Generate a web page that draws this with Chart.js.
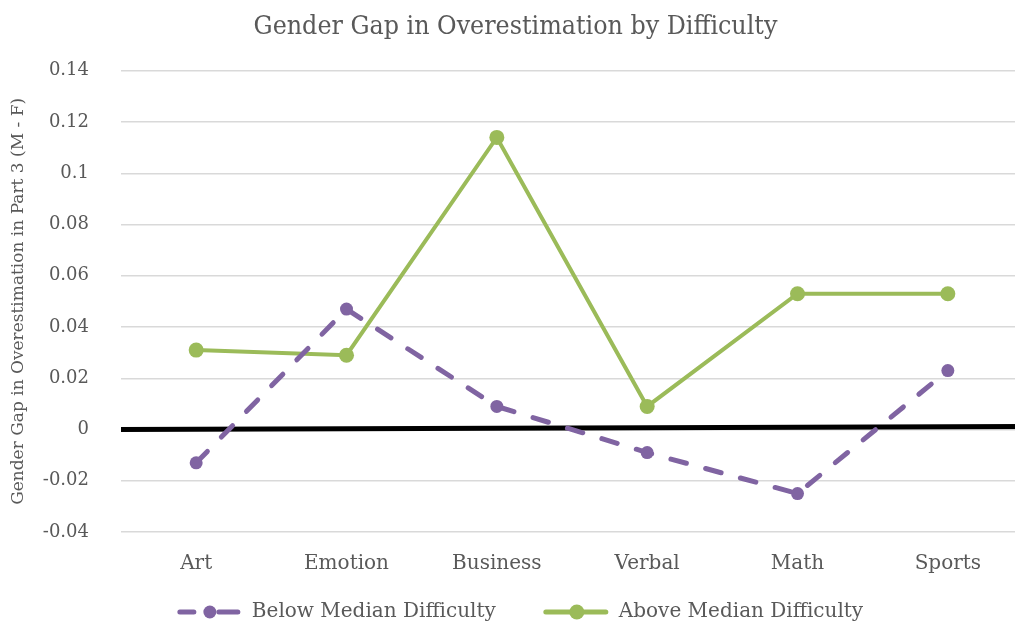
<!DOCTYPE html>
<html lang="en">
<head>
    <meta charset="UTF-8">
    <title>Gender Gap in Overestimation by Difficulty</title>
    <script src="https://cdn.jsdelivr.net/npm/chart.js"></script>
    <style>
        html, body { margin: 0; padding: 0; background: #fff; overflow: hidden; }
        #wrap { width: 1040px; height: 628px; position: relative; }
    </style>
</head>
<body>
    <div id="wrap">
        <canvas id="gapChart"></canvas>
    </div>

    <script>
        // Datos
        const categories = ['Art', 'Emotion', 'Business', 'Verbal', 'Math', 'Sports'];
        const belowMedian = [-0.013, 0.047, 0.009, -0.009, -0.025, 0.023];
        const aboveMedian = [0.031, 0.029, 0.114, 0.009, 0.053, 0.053];
        const seriesNames = ['Below Median Difficulty', 'Above Median Difficulty'];
        const yTicks = [-0.04, -0.02, 0, 0.02, 0.04, 0.06, 0.08, 0.1, 0.12, 0.14];
        // linea negra del cero (dibujada a mano en el original, algo inclinada)
        const zeroLine = [0, 0.0012];

        const PURPLE = '#8064a2';
        const GREEN = '#9bbb59';
        const GREY = '#595959';
        const SERIF = "'DejaVu Serif', 'Liberation Serif', serif";
        const LEGEND_SIZE = 20;

        const zeroLinePlugin = {
            id: 'zeroLine',
            beforeDatasetsDraw(chart) {
                const y = chart.scales.y;
                const area = chart.chartArea;
                const ctx = chart.ctx;
                ctx.save();
                ctx.strokeStyle = '#000';
                ctx.lineWidth = 5;
                ctx.beginPath();
                ctx.moveTo(area.left, y.getPixelForValue(zeroLine[0]));
                ctx.lineTo(area.right, y.getPixelForValue(zeroLine[1]));
                ctx.stroke();
                ctx.restore();
            }
        };

        // Leyenda propia: linea + marcador como en Excel
        const bottomLegend = {
            id: 'bottomLegend',
            afterDraw(chart) {
                const ctx = chart.ctx;
                const symW = 64, gapText = 11, gapItems = 48;
                const cy = 612;
                ctx.save();
                ctx.font = LEGEND_SIZE + 'px ' + SERIF;
                const widths = chart.data.datasets.map(ds => ctx.measureText(ds.label).width);
                const total = symW * 2 + gapText * 2 + widths[0] + widths[1] + gapItems;
                let x = chart.width / 2 - total / 2;
                chart.data.datasets.forEach((ds, i) => {
                    ctx.strokeStyle = ds.borderColor;
                    ctx.fillStyle = ds.borderColor;
                    ctx.lineWidth = 5;
                    ctx.lineCap = 'round';
                    ctx.beginPath();
                    if (ds.borderDash) {
                        ctx.moveTo(x + 3, cy); ctx.lineTo(x + 17, cy);
                        ctx.moveTo(x + 42, cy); ctx.lineTo(x + symW - 3, cy);
                    } else {
                        ctx.moveTo(x + 2, cy); ctx.lineTo(x + symW - 2, cy);
                    }
                    ctx.stroke();
                    ctx.beginPath();
                    ctx.arc(x + 33, cy, ds.pointRadius, 0, Math.PI * 2);
                    ctx.fill();
                    x += symW + gapText;
                    ctx.fillStyle = GREY;
                    ctx.textBaseline = 'middle';
                    ctx.textAlign = 'left';
                    ctx.fillText(ds.label, x, cy);
                    x += widths[i] + gapItems;
                });
                ctx.restore();
            }
        };

        new Chart(document.getElementById('gapChart'), {
            type: 'line',
            data: {
                labels: categories,
                datasets: [{
                    label: seriesNames[0],
                    data: belowMedian,
                    borderColor: PURPLE,
                    backgroundColor: PURPLE,
                    borderWidth: 5,
                    borderDash: [16, 20],
                    borderCapStyle: 'round',
                    pointRadius: 6.5,
                    pointHoverRadius: 6.5,
                    pointBorderWidth: 0,
                    tension: 0
                }, {
                    label: seriesNames[1],
                    data: aboveMedian,
                    borderColor: GREEN,
                    backgroundColor: GREEN,
                    borderWidth: 4,
                    pointRadius: 7.5,
                    pointHoverRadius: 7.5,
                    pointBorderWidth: 0,
                    tension: 0
                }]
            },
            options: {
                responsive: true,
                maintainAspectRatio: false,
                animation: false,
                layout: { padding: { left: 8, right: 17, top: 11, bottom: 32 } },
                plugins: {
                    title: {
                        display: true,
                        text: 'Gender Gap in Overestimation by Difficulty',
                        color: GREY,
                        font: { family: "'DejaVu Serif Condensed', 'Liberation Serif', serif", size: 26.5, weight: 'normal' },
                        padding: { top: 0, bottom: 28 }
                    },
                    legend: { display: false },
                    tooltip: { enabled: false }
                },
                scales: {
                    x: {
                        offset: true,
                        grid: { display: false, drawTicks: false },
                        border: { display: false },
                        ticks: { color: GREY, font: { family: SERIF, size: 20 }, padding: 20 }
                    },
                    y: {
                        min: -0.04,
                        max: 0.14,
                        afterBuildTicks(scale) {
                            scale.ticks = yTicks.map(v => ({ value: v }));
                        },
                        afterFit(scale) { scale.width = 113; },
                        grid: { color: '#d9d9d9', lineWidth: 1.5, drawTicks: false },
                        border: { display: false },
                        ticks: {
                            color: GREY,
                            font: { family: SERIF, size: 18 },
                            padding: 32,
                            callback: v => String(Math.round(v * 100) / 100)
                        },
                        title: {
                            display: true,
                            text: 'Gender Gap in Overestimation in Part 3 (M - F)',
                            color: GREY,
                            font: { family: SERIF, size: 17 },
                            padding: { top: 0, bottom: 0 }
                        }
                    }
                }
            },
            plugins: [zeroLinePlugin, bottomLegend]
        });
    </script>
</body>
</html>
